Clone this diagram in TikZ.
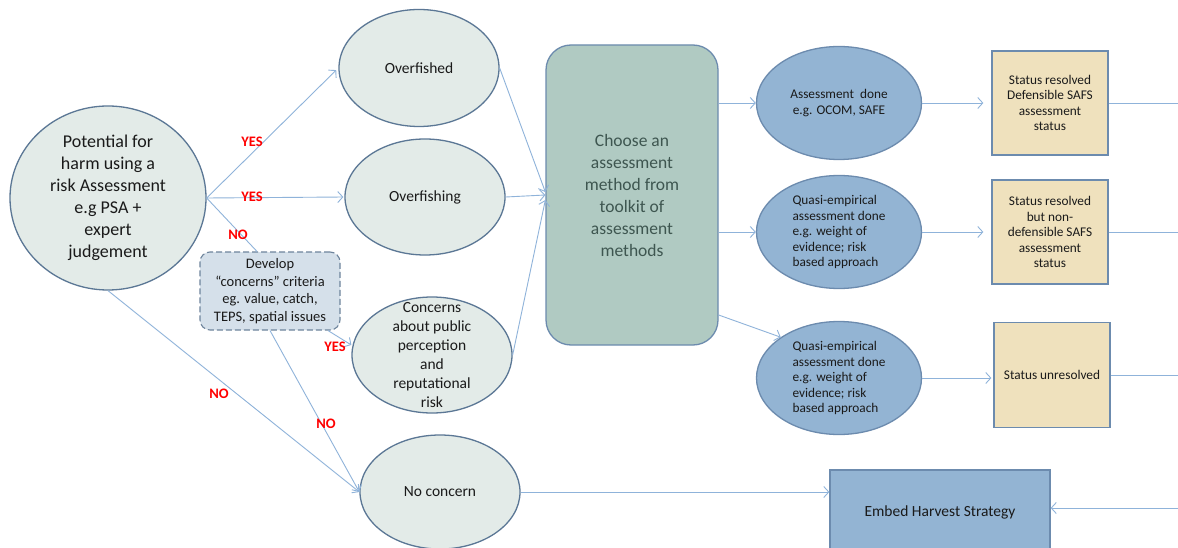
\documentclass[tikz,border=0pt]{standalone}
\usepackage{fontspec}
\setmainfont{Carlito}
\usetikzlibrary{shapes.geometric,arrows.meta}
\definecolor{ovalfill}{HTML}{E3EBE8}
\definecolor{ovaldraw}{HTML}{5B7795}
\definecolor{devfill}{HTML}{D5E0EA}
\definecolor{devdraw}{HTML}{6E849C}
\definecolor{chofill}{HTML}{B0CAC2}
\definecolor{chotext}{HTML}{3E5650}
\definecolor{bluefill}{HTML}{93B4D3}
\definecolor{bluedraw}{HTML}{6C8BAE}
\definecolor{tanfill}{HTML}{EFE1BD}
\definecolor{arrcol}{HTML}{8FB3DA}
\definecolor{txt}{HTML}{1A1A1A}
\definecolor{lblred}{HTML}{FF0000}
\begin{document}
\begin{tikzpicture}[x=1pt,y=-1pt,
  lightoval/.style={ellipse, draw=ovaldraw, fill=ovalfill, line width=1.3pt, inner sep=-20pt, align=center, text=txt},
  blueoval/.style={ellipse, draw=bluedraw, fill=bluefill, line width=1.3pt, inner sep=-20pt, text=txt, minimum width=165pt, minimum height=113pt, font=\fontsize{13.3}{15.5}\selectfont},
  tanbox/.style={rectangle, draw=bluedraw, fill=tanfill, line width=1.3pt, text=txt, align=center, minimum width=116pt, minimum height=104pt, inner sep=0pt, font=\fontsize{13.3}{15.5}\selectfont},
  arr/.style={draw=arrcol, line width=0.9pt, -{Straight Barb[length=5pt,width=11pt]}},
  plain/.style={draw=arrcol, line width=0.9pt},
  yn/.style={text=lblred, font=\fontsize{14.5}{16}\selectfont\bfseries, inner sep=0pt}
]
\useasboundingbox (0,0) rectangle (1178,548);
\fill[white] (0,0) rectangle (1178,548);

% main nodes
\node[lightoval, minimum width=196pt, minimum height=184pt, font=\fontsize{18}{22}\selectfont] (pot) at (108,198)
  {Potential for\\harm using a\\risk Assessment\\e.g PSA +\\expert\\judgement};
\node[lightoval, minimum width=160pt, minimum height=117pt, font=\fontsize{15.5}{19}\selectfont] (ofd) at (419,68) {Overfished};
\node[lightoval, minimum width=160pt, minimum height=116pt, font=\fontsize{15.5}{19}\selectfont] (ofg) at (425,197) {Overfishing};
\node[lightoval, minimum width=160pt, minimum height=116pt, font=\fontsize{15.5}{19}\selectfont] (con) at (432,355)
  {Concerns\\about public\\perception\\and\\reputational\\risk};
\node[lightoval, minimum width=160pt, minimum height=114pt, font=\fontsize{15.5}{19}\selectfont] (nc) at (440,492) {No concern};

\node[rectangle, rounded corners=10pt, draw=devdraw, dash pattern=on 6pt off 3pt, fill=devfill, line width=1.1pt,
  minimum width=140pt, minimum height=78pt, inner sep=0pt, align=center, text=txt,
  font=\fontsize{14.5}{17.7}\selectfont] (dev) at (270,291)
  {Develop\\``concerns'' criteria\\eg. value, catch,\\TEPS, spatial issues};

\node[rectangle, rounded corners=25pt, draw=bluedraw, fill=chofill, line width=1.3pt,
  minimum width=172pt, minimum height=300pt, inner sep=0pt, align=center, text=chotext,
  font=\fontsize{17.5}{22}\selectfont] (cho) at (632,195)
  {Choose an\\assessment\\method from\\toolkit of\\assessment\\methods};

\node[blueoval, align=center] (ae) at (839,103) {Assessment\ \ done\\e.g. OCOM, SAFE};
\node[blueoval, align=left] (q1) at (839,232) {Quasi-empirical\\assessment done\\e.g. weight of\\evidence; risk\\based approach};
\node[blueoval, align=left] (q2) at (839,378) {Quasi-empirical\\assessment done\\e.g. weight of\\evidence; risk\\based approach};

\node[tanbox] (s1) at (1050,103) {Status resolved\\Defensible SAFS\\assessment\\status};
\node[tanbox] (s2) at (1050,232) {Status resolved\\but non-\\defensible SAFS\\assessment\\status};
\node[tanbox, minimum height=105pt] (s3) at (1052,375) {Status unresolved};

\node[rectangle, draw=bluedraw, fill=bluefill, line width=1.3pt, minimum width=220pt, minimum height=84pt,
  inner sep=0pt, text=txt, font=\fontsize{15.5}{19}\selectfont] (emb) at (940,512) {Embed Harvest Strategy};

\coordinate (R) at (1178,0);
\coordinate (R2) at (1178,508);

% connectors from potential
\draw[arr, shorten >=3pt] (pot.east) -- (ofd.west);
\draw[arr, shorten >=1pt] (pot.east) -- (ofg.west);
\draw[plain] (pot.east) -- ([xshift=-13pt]dev.north);
\draw[arr] (pot.south) -- (nc.west);
\draw[arr] (dev.south) -- (nc.west);
\draw[arr] ([xshift=58pt]dev.south) -- ([yshift=10pt]con.west);

% into choose
\draw[arr] (ofd.east) -- ([yshift=3pt]cho.west);
\draw[arr] (ofg.east) -- (cho.west);
\draw[arr] (con.east) -- ([yshift=-5pt]cho.west);

% out of choose
\draw[arr] (cho.east |- ae.west) -- (ae.west);
\draw[arr] (cho.east |- q1.west) -- (q1.west);
\draw[arr] ([yshift=-120pt]cho.east) -- (q2.145);

% to status boxes
\draw[arr, shorten >=8pt] (ae.east) -- (ae.east -| s1.west);
\draw[arr, shorten >=8pt] (q1.east) -- (q1.east -| s2.west);
\draw[arr, shorten >=2pt] (q2.east) -- (q2.east -| s3.west);

% off to the right
\draw[plain] (s1.east) -- (s1.east -| R);
\draw[plain] (s2.east) -- (s2.east -| R);
\draw[plain] (s3.east) -- (s3.east -| R);

% embed
\draw[arr] (nc.east) -- (nc.east -| emb.west);
\draw[arr] (R2) -- (R2 -| emb.east);

% labels
\node[yn] (y1) at (252,142) {YES};
\node[yn] (y2) at (252,197) {YES};
\node[yn] (n1) at (238,235) {NO};
\node[yn] (y3) at (335,347) {YES};
\node[yn] (n2) at (219,394) {NO};
\node[yn] (n3) at (326,424) {NO};
\end{tikzpicture}
\end{document}
